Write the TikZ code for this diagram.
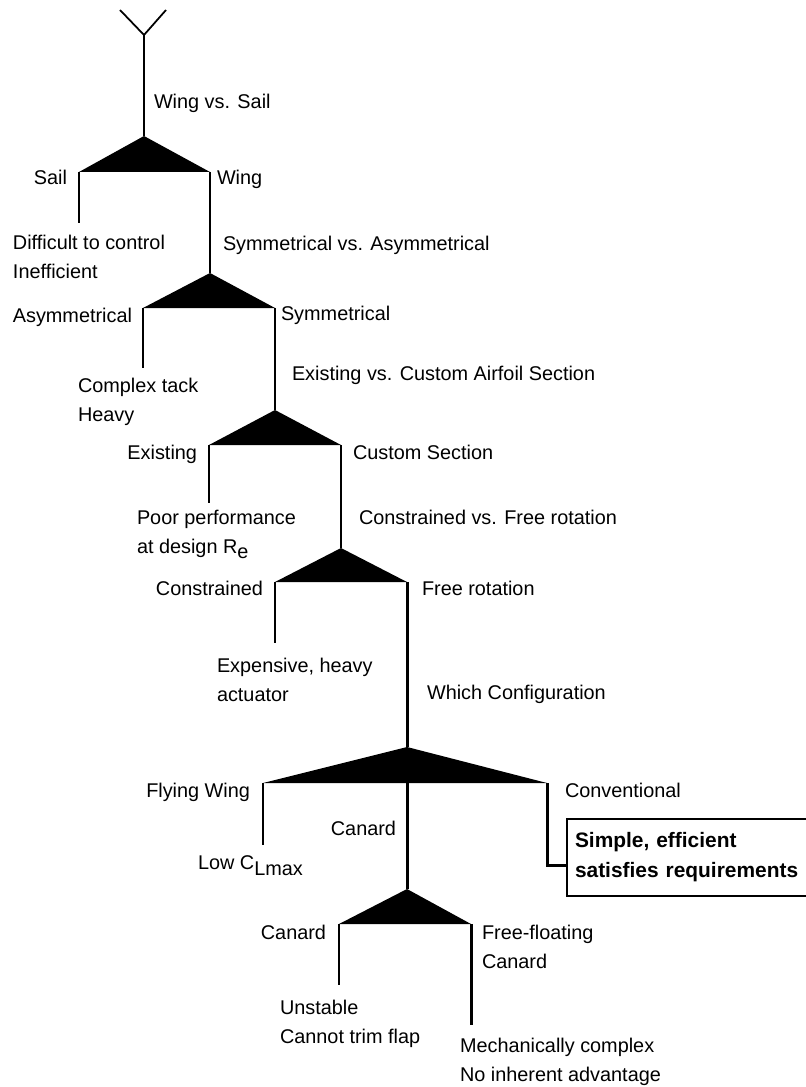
\documentclass[tikz,border=0pt]{standalone}
\usepackage{fontspec}
\setmainfont{Liberation Sans}
\begin{document}
\begin{tikzpicture}
	\tikzset{stem/.style={line width=1.1pt},
		leg/.style={line width=1.7pt},
		lbl/.style={inner sep=0pt, outer sep=0pt, font=\fontsize{11.3}{16.5}\selectfont, align=left}}
	\useasboundingbox (0,0) rectangle (16.1,-21.74);
	%Wurzel
	\coordinate (yl) at (2.4,-0.2);
	\coordinate (yr) at (3.32,-0.2);
	\coordinate (y0) at (2.88,-0.7);
	\draw[line width=1pt] (yl) -- (y0) -- (yr);
	
	%Wing vs. Sail
	\coordinate (a1) at (2.88,-2.72);
	\coordinate (l1) at (1.58,-3.44);
	\coordinate (r1) at (4.2,-3.44);
	\coordinate (e1) at (1.58,-4.46);
	\draw[stem] (y0) -- (a1);
	\fill (a1) -- (l1) -- (r1) -- cycle;
	\draw[leg] (l1) -- (e1);
	\node[lbl, anchor=north west] (q1) at (3.08,-1.88) {Wing vs. Sail};
	\node[lbl, anchor=north east] (sail) at (1.34,-3.40) {Sail};
	\node[lbl, anchor=north west] (wing) at (4.34,-3.40) {Wing};
	\node[lbl, anchor=north west] (c1) at (0.26,-4.70) {Difficult to control\\Inefficient};
	
	%Symmetrical vs. Asymmetrical
	\coordinate (a2) at (4.2,-5.46);
	\coordinate (l2) at (2.86,-6.16);
	\coordinate (r2) at (5.5,-6.16);
	\coordinate (e2) at (2.86,-7.36);
	\draw[leg] (r1) -- (a2);
	\fill (a2) -- (l2) -- (r2) -- cycle;
	\draw[leg] (l2) -- (e2);
	\node[lbl, anchor=north west] (q2) at (4.46,-4.72) {Symmetrical vs. Asymmetrical};
	\node[lbl, anchor=north east] (asym) at (2.64,-6.16) {Asymmetrical};
	\node[lbl, anchor=north west] (sym) at (5.62,-6.12) {Symmetrical};
	\node[lbl, anchor=north west] (c2) at (1.56,-7.56) {Complex tack\\Heavy};
	
	%Existing vs. Custom
	\coordinate (a3) at (5.5,-8.2);
	\coordinate (l3) at (4.18,-8.9);
	\coordinate (r3) at (6.82,-8.9);
	\coordinate (e3) at (4.18,-10.06);
	\draw[leg] (r2) -- (a3);
	\fill (a3) -- (l3) -- (r3) -- cycle;
	\draw[leg] (l3) -- (e3);
	\node[lbl, anchor=north west] (q3) at (5.84,-7.32) {Existing vs. Custom Airfoil Section};
	\node[lbl, anchor=north east] (exist) at (3.94,-8.90) {Existing};
	\node[lbl, anchor=north west] (custom) at (7.06,-8.90) {Custom Section};
	\node[lbl, anchor=north west] (c3) at (2.74,-10.20) {Poor performance\\at design R\raisebox{-.5ex}{e}};
	
	%Constrained vs. Free
	\coordinate (a4) at (6.82,-10.96);
	\coordinate (l4) at (5.5,-11.64);
	\coordinate (r4) at (8.14,-11.64);
	\coordinate (e4) at (5.5,-12.86);
	\draw[leg] (r3) -- (a4);
	\fill (a4) -- (l4) -- (r4) -- cycle;
	\draw[leg] (l4) -- (e4);
	\node[lbl, anchor=north west] (q4) at (7.18,-10.20) {Constrained vs. Free rotation};
	\node[lbl, anchor=north east] (constr) at (5.26,-11.62) {Constrained};
	\node[lbl, anchor=north west] (free) at (8.44,-11.62) {Free rotation};
	\node[lbl, anchor=north west] (c4) at (4.34,-13.16) {Expensive, heavy\\actuator};
	
	%Which Configuration
	\coordinate (a5) at (8.14,-14.94);
	\coordinate (l5) at (5.26,-15.66);
	\coordinate (m5) at (8.14,-15.66);
	\coordinate (r5) at (10.94,-15.66);
	\coordinate (e5) at (5.26,-16.9);
	\coordinate (k5) at (10.94,-17.3);
	\draw[leg] (r4) -- (a5);
	\fill (a5) -- (l5) -- (r5) -- cycle;
	\draw[leg] (l5) -- (e5);
	\node[lbl, anchor=north west] (q5) at (8.54,-13.70) {Which Configuration};
	\node[lbl, anchor=north east] (flying) at (5.0,-15.66) {Flying Wing};
	\node[lbl, anchor=north west] (conv) at (11.3,-15.66) {Conventional};
	\node[lbl, anchor=north east] (canard) at (7.92,-16.42) {Canard};
	\node[lbl, anchor=north west] (c5) at (3.96,-17.12) {Low C\raisebox{-.5ex}{Lmax}};
	\node[lbl, anchor=west, draw, line width=1.5pt, font=\fontsize{11.9}{17}\selectfont\bfseries,
		text width=5.2cm, inner xsep=0.16cm, minimum height=1.54cm] (best) at (11.34,-17.15)
		{Simple, efficient\\satisfies requirements};
	\draw[leg] (r5) -- (k5) -- (k5 -| best.west);
	
	%Canard vs. Free-floating
	\coordinate (a6) at (8.14,-17.78);
	\coordinate (l6) at (6.78,-18.48);
	\coordinate (r6) at (9.42,-18.48);
	\coordinate (e6) at (6.78,-19.7);
	\coordinate (f6) at (9.42,-20.5);
	\draw[leg] (m5) -- (a6);
	\fill (a6) -- (l6) -- (r6) -- cycle;
	\draw[leg] (l6) -- (e6);
	\draw[leg] (r6) -- (f6);
	\node[lbl, anchor=north east] (canard2) at (6.52,-18.5) {Canard};
	\node[lbl, anchor=north west] (floating) at (9.64,-18.5) {Free-floating\\Canard};
	\node[lbl, anchor=north west] (c6) at (5.6,-20.0) {Unstable\\Cannot trim flap};
	\node[lbl, anchor=north west] (c7) at (9.2,-20.76) {Mechanically complex\\No inherent advantage};
	
\end{tikzpicture}
\end{document}
